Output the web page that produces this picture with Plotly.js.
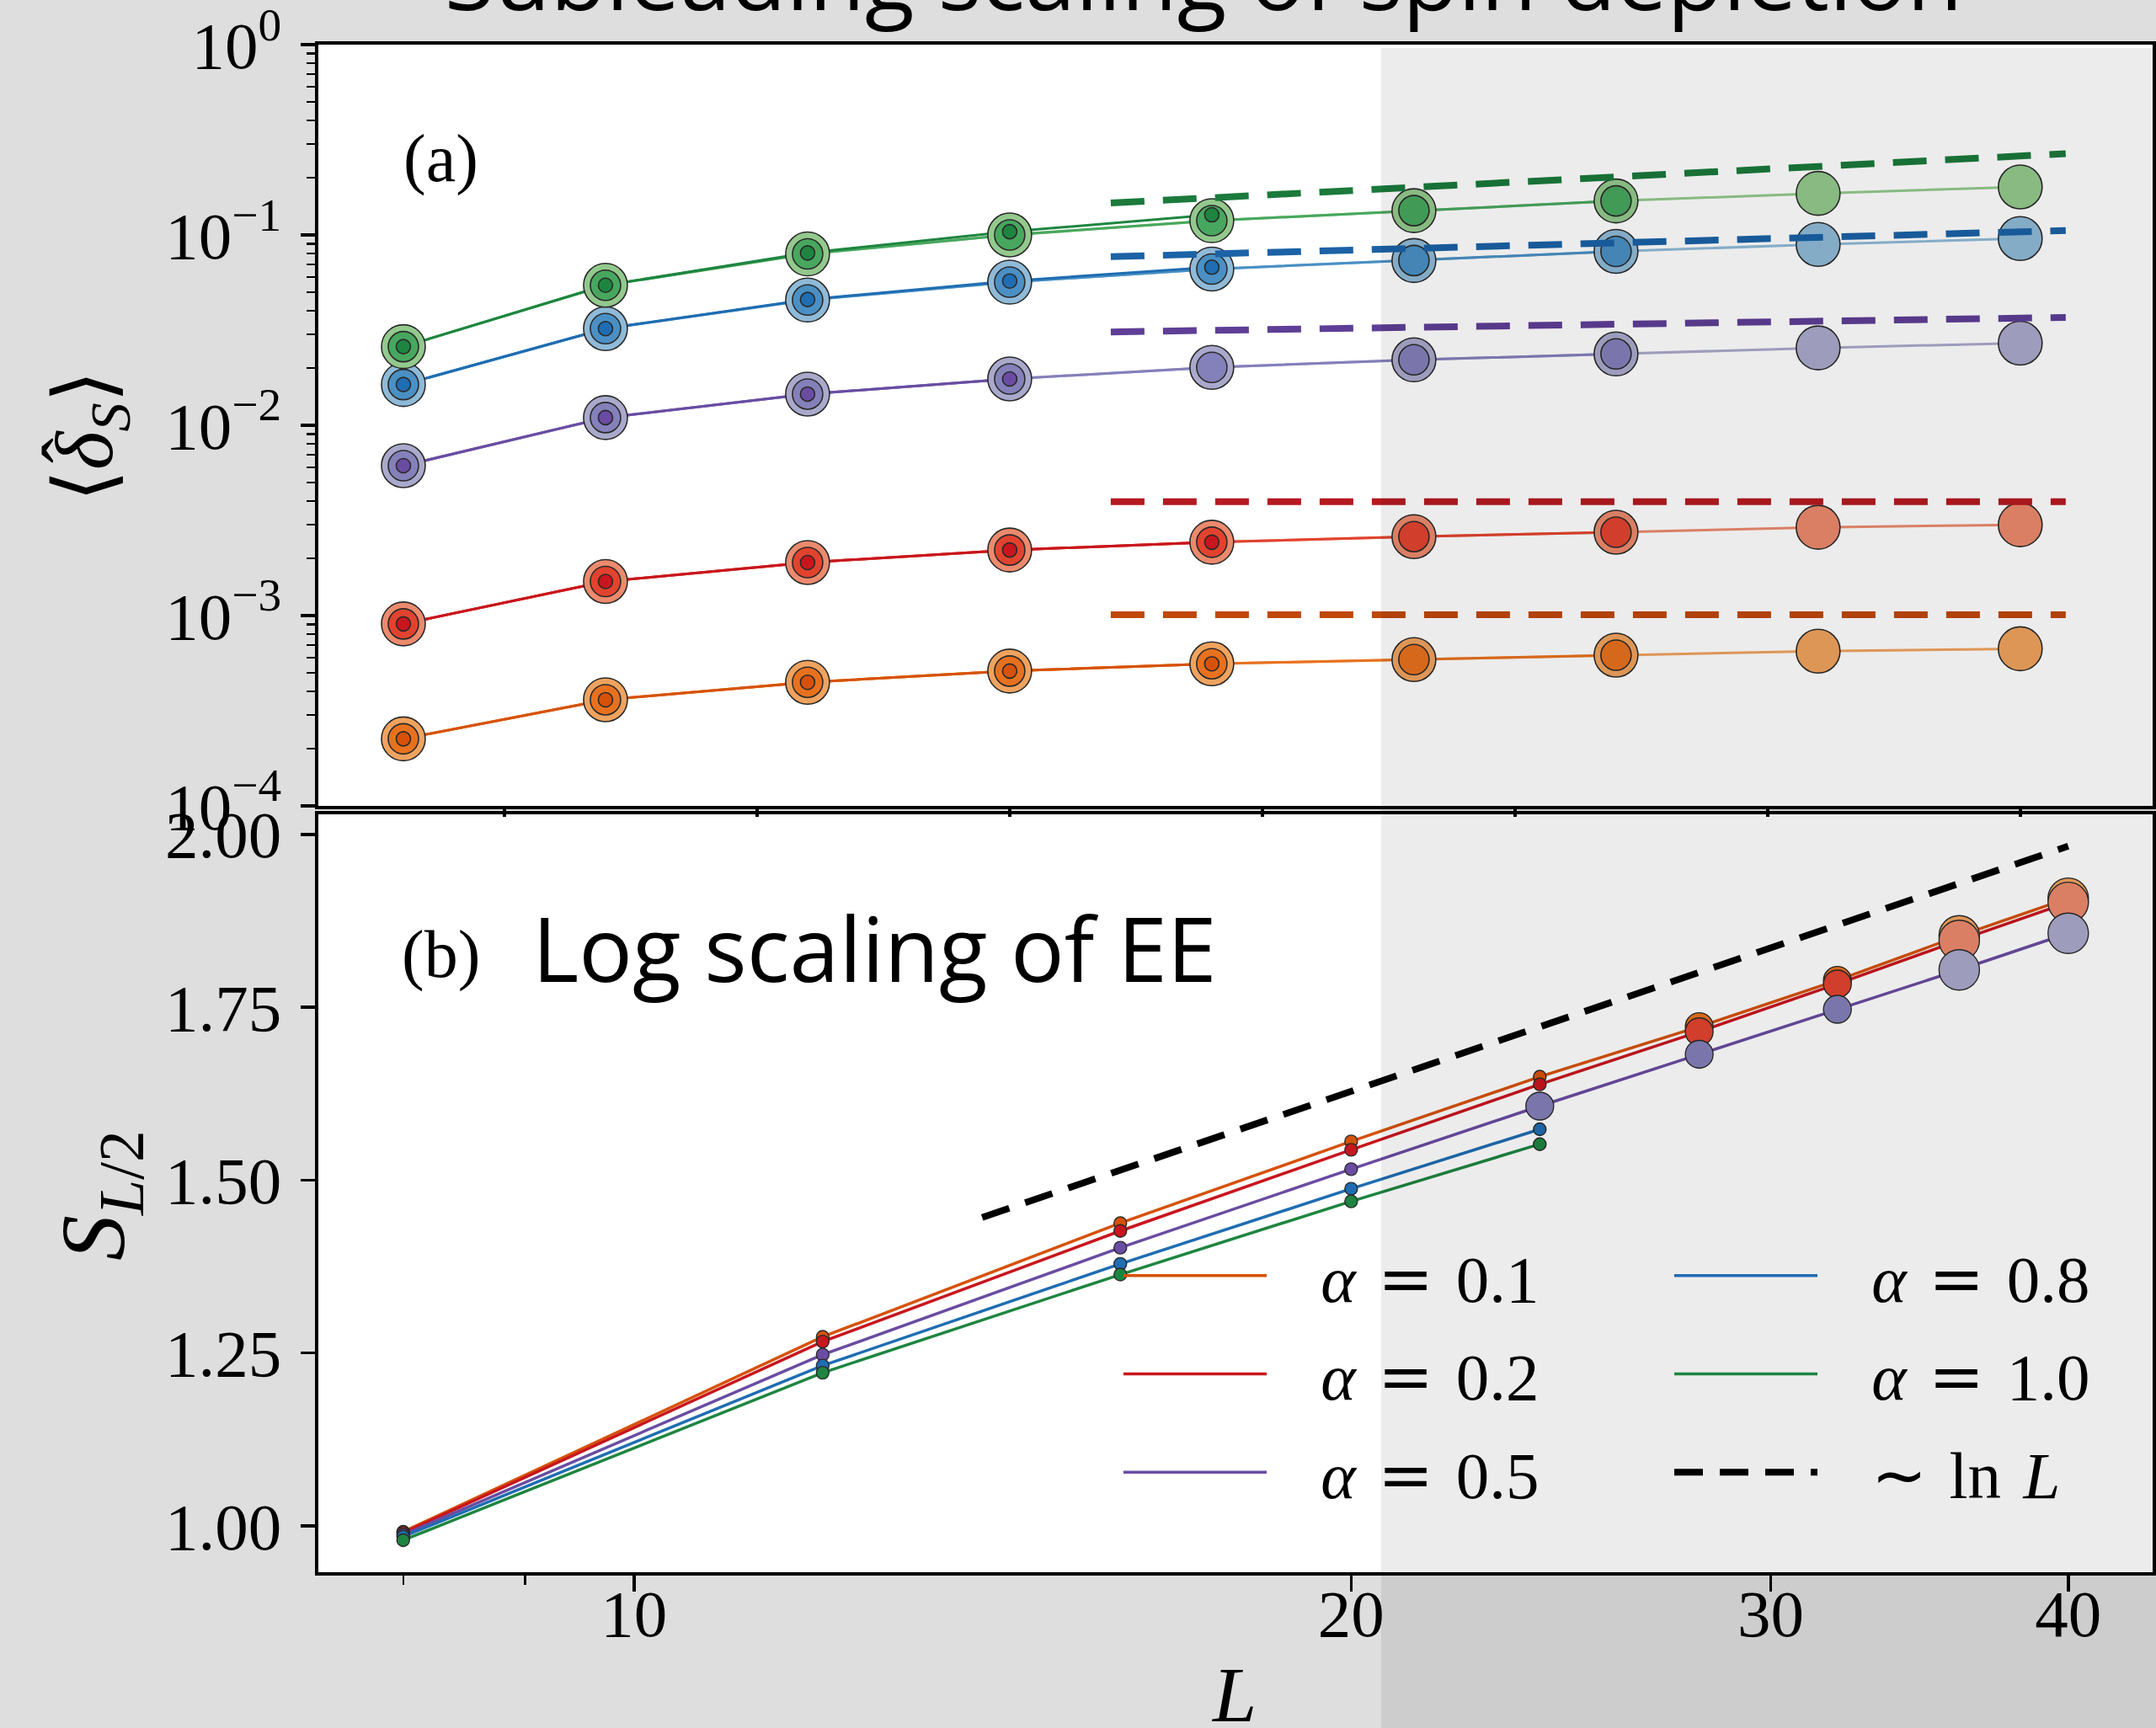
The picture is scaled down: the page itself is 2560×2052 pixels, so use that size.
<!DOCTYPE html>
<html>
<head>
<meta charset="utf-8">
<script src="https://cdn.plot.ly/plotly-3.0.1.min.js"></script>
<style>
html,body{margin:0;padding:0;background:#dedede;}
#chart{width:2560px;height:2052px;}
</style>
</head>
<body>
<div id="chart"></div>
<script>
// ---------------- DATA ----------------
const L_all = [8, 12, 16, 20, 24, 28, 32, 36, 40];

// Panel (a): spin depletion <delta_S>, three data sets per alpha
// large (light) markers: L = 8..40, medium: L = 8..32, small (dark): L = 8..24 (8..20 for alpha=0.5)
const dep01_large  = [0.000225, 0.000361, 0.000446, 0.000511, 0.000558, 0.000587, 0.000619, 0.000650, 0.000669];
const dep01_medium = [0.000225, 0.000361, 0.000446, 0.000511, 0.000558, 0.000587, 0.000619];
const dep01_small  = [0.000225, 0.000361, 0.000446, 0.000511, 0.000558];

const dep02_large  = [0.000904, 0.00151, 0.00190, 0.00221, 0.00243, 0.00260, 0.00274, 0.00291, 0.00300];
const dep02_medium = [0.000904, 0.00151, 0.00190, 0.00221, 0.00243, 0.00260, 0.00274];
const dep02_small  = [0.000904, 0.00151, 0.00190, 0.00221, 0.00243];

const dep05_large  = [0.00613, 0.01097, 0.01459, 0.01751, 0.02015, 0.02207, 0.0237, 0.0255, 0.0270];
const dep05_medium = [0.00613, 0.01097, 0.01459, 0.01751, 0.02015, 0.02207, 0.0237];
const dep05_small  = [0.00613, 0.01097, 0.01459, 0.01751];

const dep08_large  = [0.01637, 0.0322, 0.0455, 0.0565, 0.0662, 0.0734, 0.0820, 0.0892, 0.0958];
const dep08_medium = [0.01637, 0.0322, 0.0455, 0.0565, 0.0662, 0.0734, 0.0820];
const dep08_small  = [0.01637, 0.0322, 0.0458, 0.0573, 0.0677];

const dep10_large  = [0.0259, 0.0544, 0.0795, 0.1000, 0.1189, 0.1343, 0.1510, 0.1654, 0.1789];
const dep10_medium = [0.0259, 0.0544, 0.0795, 0.1000, 0.1189, 0.1343, 0.1510];
const dep10_small  = [0.0259, 0.0544, 0.0805, 0.1041, 0.1277];

// dashed guide lines in panel (a)
const fitL  = [22, 40.9];
const fit01 = [0.00101, 0.00101];
const fit02 = [0.00397, 0.00397];
const fit05 = [0.03095, 0.03687];
const fit08 = [0.0769, 0.1055];
const fit10 = [0.1473, 0.2676];

// Panel (b): half-chain entanglement entropy S_{L/2}
const ee01 = [0.9915, 1.2734, 1.4378, 1.556, 1.6496, 1.722, 1.789, 1.8533, 1.9077];
const ee02 = [0.9898, 1.2665, 1.4265, 1.5439, 1.6386, 1.7146, 1.7837, 1.8467, 1.9016];
const ee05 = [0.9871, 1.2476, 1.4023, 1.5159, 1.607, 1.682, 1.747, 1.804, 1.857];
const ee08 = [0.9845, 1.2318, 1.3789, 1.4875, 1.5736];
const ee10 = [0.9793, 1.2215, 1.3634, 1.4693, 1.5520];
// largest L of the small-marker set, and of the medium-marker set
const eeSmallMaxL = [24, 24, 20, 24, 24];
const eeMediumMaxL = 32;

const lnL_L = [14, 40];
const lnL_S = [1.446, 1.983];

const alphaLabels = ['0.1', '0.2', '0.5', '0.8', '1.0'];
const yTickVals = [1e-4, 1e-3, 1e-2, 1e-1, 1];
const yTickText = ['10<sup>−4</sup>', '10<sup>−3</sup>', '10<sup>−2</sup>', '10<sup>−1</sup>', '10<sup>0</sup>'];
const y2TickVals = [1, 1.25, 1.5, 1.75, 2];
const y2TickText = ['1.00', '1.25', '1.50', '1.75', '2.00'];
const x2TickVals = [10, 20, 30, 40];
const x2TickText = ['10', '20', '30', '40'];

// ---------------- STYLE ----------------
const W = 2560, H = 2052;
const M = {l: 378, r: 4, t: 53, b: 185};
const PW = W - M.l - M.r, PH = H - M.t - M.b;
const px2x = p => (p - M.l) / PW;
const px2y = p => (H - M.b - p) / PH;

const pal = [
  {dark: '#d65208', mid: '#e8711f', light: '#f0a35e', fit: '#c0480a'},
  {dark: '#c8161e', mid: '#e2432f', light: '#ec8a6d', fit: '#b51a20'},
  {dark: '#6a4ca2', mid: '#8480ba', light: '#aaa9cc', fit: '#5e3e96'},
  {dark: '#1f6db2', mid: '#4a90c4', light: '#8fbad8', fit: '#1b62a6'},
  {dark: '#1e8540', mid: '#48a75e', light: '#93c98d', fit: '#1b7a3c'}
];
const SERIF = 'Liberation Serif, Times New Roman, serif';
const SANS = 'Open Sans, Noto Sans, sans-serif';

const depSets = [
  [dep01_large, dep01_medium, dep01_small],
  [dep02_large, dep02_medium, dep02_small],
  [dep05_large, dep05_medium, dep05_small],
  [dep08_large, dep08_medium, dep08_small],
  [dep10_large, dep10_medium, dep10_small]
];
const fits = [fit01, fit02, fit05, fit08, fit10];
const ees = [ee01, ee02, ee05, ee08, ee10];

const setKeys = ['light', 'mid', 'dark'];
const setSizes = [52, 36, 17];

const traces = [];
// panel (a) lines
for (let s = 0; s < 3; s++) {
  depSets.forEach((sets, a) => {
    const y = sets[s];
    traces.push({x: L_all.slice(0, y.length), y: y, xaxis: 'x', yaxis: 'y', mode: 'lines',
      line: {color: pal[a][setKeys[s]], width: 3}, showlegend: false, hoverinfo: 'skip'});
  });
}
// panel (a) markers
for (let s = 0; s < 3; s++) {
  depSets.forEach((sets, a) => {
    const y = sets[s];
    traces.push({x: L_all.slice(0, y.length), y: y, xaxis: 'x', yaxis: 'y', mode: 'markers',
      marker: {size: setSizes[s], color: pal[a][setKeys[s]], line: {color: '#2a2a2a', width: 1.6}},
      showlegend: false, hoverinfo: 'skip'});
  });
}
// panel (a) dashed
fits.forEach((f, a) => {
  traces.push({x: fitL, y: f, xaxis: 'x', yaxis: 'y', mode: 'lines',
    line: {color: pal[a].fit, width: 8, dash: '40px,22px'}, showlegend: false, hoverinfo: 'skip'});
});

// legend label spacing
const GAP = '\u00a0\u00a0\u00a0';
const SP = '\u2004';
const EQ = '<span style="font-family:DejaVu Serif">=</span>';

// panel (b) lines (legend entries)
ees.forEach((e, a) => {
  traces.push({x: L_all.slice(0, e.length), y: e, xaxis: 'x2', yaxis: 'y2', mode: 'lines',
    line: {color: pal[a].dark, width: 3.5},
    name: GAP + '<i>α</i>' + SP + EQ + SP + alphaLabels[a],
    legend: a < 3 ? 'legend' : 'legend2', legendgroup: 'g' + a, hoverinfo: 'skip'});
});

// panel (b) markers
ees.forEach((e, a) => {
  const Ls = L_all.slice(0, e.length);
  const groups = [
    {f: L => L <= eeSmallMaxL[a], size: 15, col: pal[a].dark},
    {f: L => L > eeSmallMaxL[a] && L <= eeMediumMaxL, size: 33, col: pal[a].mid},
    {f: L => L > eeMediumMaxL, size: 48, col: pal[a].light}
  ];
  groups.forEach(g => {
    const xs = [], ys = [];
    Ls.forEach((L, i) => { if (g.f(L)) { xs.push(L); ys.push(e[i]); } });
    if (xs.length) traces.push({x: xs, y: ys, xaxis: 'x2', yaxis: 'y2', mode: 'markers',
      marker: {size: g.size, color: g.col, line: {color: '#2a2a2a', width: 1.4}},
      showlegend: false, hoverinfo: 'skip'});
  });
});
// ~ ln L
traces.push({x: lnL_L, y: lnL_S, xaxis: 'x2', yaxis: 'y2', mode: 'lines',
  line: {color: 'black', width: 8, dash: '34px,20px'},
  name: GAP + '∼' + SP + 'ln' + '\u2004' + '<i>L</i>', legend: 'legend2', legendgroup: 'g5', hoverinfo: 'skip'});

// minor tick positions for the log axis
const minorLog = [];
for (let e = -4; e < 0; e++) for (let k = 2; k <= 9; k++) minorLog.push(k * Math.pow(10, e));

const tickFont = {family: SERIF, size: 79, color: 'black'};
const axBase = {showline: true, linecolor: 'black', linewidth: 4, mirror: true, showgrid: false,
  zeroline: false, ticks: 'outside', tickcolor: 'black', tickwidth: 3.5, tickfont: tickFont,
  ticklabeloverflow: 'allow'};

const legendBase = {bgcolor: 'rgba(0,0,0,0)', borderwidth: 0, orientation: 'v',
  font: {family: SERIF, size: 79, color: 'black'}, itemwidth: 170, traceorder: 'grouped',
  tracegroupgap: 11, xanchor: 'left', yanchor: 'top', itemclick: false};

const layout = {
  width: W, height: H,
  margin: M,
  paper_bgcolor: '#dedede', plot_bgcolor: 'white',
  showlegend: true,
  xaxis: Object.assign({}, axBase, {domain: [0, 1], anchor: 'y', range: [6.317, 42.62],
    tickvals: [10, 15, 20, 25, 30, 35, 40], showticklabels: false, ticklen: 9}),
  yaxis: Object.assign({}, axBase, {domain: [px2y(957), 1], anchor: 'x', type: 'log', range: [-4.0004, 0.0004],
    tickvals: yTickVals, ticktext: yTickText,
    ticklen: 17, ticklabelstandoff: 7,
    minor: {tickmode: 'array', tickvals: minorLog, ticks: 'outside', ticklen: 10, tickwidth: 2.5, tickcolor: 'black'}}),
  xaxis2: Object.assign({}, axBase, {domain: [0, 1], anchor: 'y2', type: 'log',
    range: [Math.log10(7.37), Math.log10(43.4)],
    tickvals: x2TickVals, ticktext: x2TickText, ticklen: 19, ticklabelstandoff: -42,
    minor: {tickmode: 'array', tickvals: [8, 9], ticks: 'outside', ticklen: 11, tickwidth: 2.5, tickcolor: 'black'}}),
  yaxis2: Object.assign({}, axBase, {domain: [0, px2y(967)], anchor: 'x2', range: [0.933, 2.029],
    tickvals: y2TickVals, ticktext: y2TickText,
    ticklen: 17, ticklabelstandoff: 7}),
  legend: Object.assign({}, legendBase, {x: px2x(1329), y: px2y(1457)}),
  legend2: Object.assign({}, legendBase, {x: px2x(1983), y: px2y(1457)}),
  annotations: [
    {text: 'Subleading scaling of spin depletion', xref: 'paper', yref: 'paper',
      x: px2x(1429), y: px2y(-29), xanchor: 'center', yanchor: 'middle', showarrow: false,
      font: {family: SANS, size: 108, color: 'black'}},
    {text: '(a)', xref: 'paper', yref: 'paper', x: px2x(523), y: px2y(189),
      xanchor: 'center', yanchor: 'middle', showarrow: false, font: {family: SERIF, size: 80, color: 'black'}},
    {text: '(b)', xref: 'paper', yref: 'paper', x: px2x(523), y: px2y(1133),
      xanchor: 'center', yanchor: 'middle', showarrow: false, font: {family: SERIF, size: 80, color: 'black'}},
    {text: 'Log scaling of EE', xref: 'paper', yref: 'paper', x: px2x(630), y: px2y(1125),
      xanchor: 'left', yanchor: 'middle', showarrow: false, font: {family: SANS, size: 106, color: 'black'}},
    {text: '⟨<i>δ</i><sub><i>S</i></sub>⟩', xref: 'paper', yref: 'paper', x: px2x(107), y: px2y(518),
      xanchor: 'center', yanchor: 'middle', textangle: -90, showarrow: false,
      font: {family: SERIF, size: 98, color: 'black'}},
    {text: 'ˆ', xref: 'paper', yref: 'paper', x: px2x(82), y: px2y(535),
      xanchor: 'center', yanchor: 'middle', textangle: -90, showarrow: false,
      font: {family: SERIF, size: 90, color: 'black'}},
    {text: '<i>S</i><sub><i>L</i>/2</sub>', xref: 'paper', yref: 'paper', x: px2x(118), y: px2y(1420),
      xanchor: 'center', yanchor: 'middle', textangle: -90, showarrow: false,
      font: {family: SERIF, size: 108, color: 'black'}},
    {text: '<i>L</i>', xref: 'paper', yref: 'paper', x: px2x(1465), y: px2y(2012),
      xanchor: 'center', yanchor: 'middle', showarrow: false,
      font: {family: SERIF, size: 94, color: 'black'}}
  ],
  shapes: [
    {type: 'rect', xref: 'paper', yref: 'paper', x0: px2x(1640), x1: px2x(2565), y0: px2y(2060), y1: px2y(57),
      fillcolor: 'rgba(0,0,0,0.075)', line: {width: 0}, layer: 'above'}
  ]
};

Plotly.newPlot('chart', traces, layout, {staticPlot: true, displayModeBar: false});
</script>
</body>
</html>
